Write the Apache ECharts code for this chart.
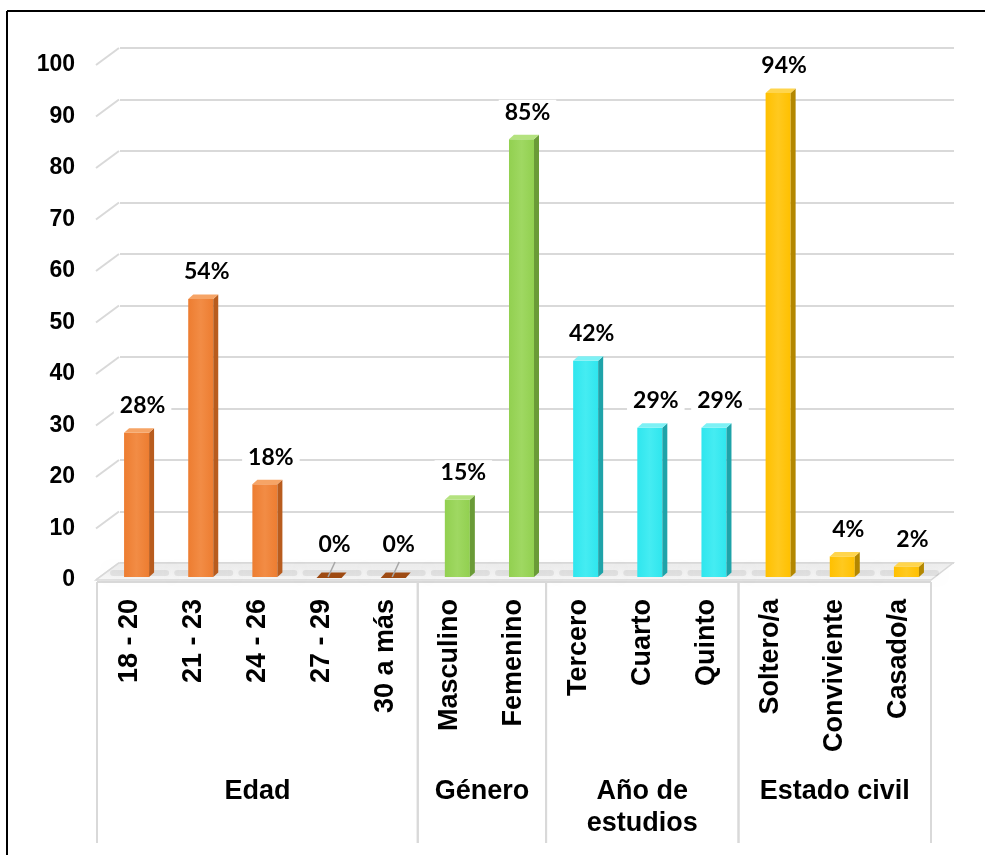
<!DOCTYPE html>
<html>
<head>
<meta charset="utf-8">
<script src="https://cdn.jsdelivr.net/npm/echarts/dist/echarts.min.js"></script>
<style>
html,body{margin:0;padding:0;background:#fff;}
#chart{width:985px;height:855px;}
</style>
</head>
<body>
<div id="chart"></div>
<script>
// ---- Data ----
const categories = ['18 - 20','21 - 23','24 - 26','27 - 29','30 a más','Masculino','Femenino','Tercero','Cuarto','Quinto','Soltero/a','Conviviente','Casado/a'];
const values = [28, 54, 18, 0, 0, 15, 85, 42, 29, 29, 94, 4, 2];
const groupNames = ['Edad', 'Género', 'Año de\nestudios', 'Estado civil'];
const groupSizes = [5, 2, 3, 3];
const yTicks = [0, 10, 20, 30, 40, 50, 60, 70, 80, 90, 100];

// ---- Styling ----
const palette = [
  {front:'#ED7D31', light:'#F28C45', side:'#B85C1E', top:'#F6A466', zero:'#9E4A12'},
  {front:'#92D050', light:'#9FD862', side:'#6A9B37', top:'#B4E27F', zero:'#5E8A2F'},
  {front:'#2FE6EE', light:'#45ECF2', side:'#1FA3A9', top:'#7DF1F5', zero:'#1A8A8F'},
  {front:'#FFC000', light:'#FFC91F', side:'#B38700', top:'#FFD54D', zero:'#9A7400'}
];
const groupOf = [];
groupSizes.forEach((s, g) => { for (let k = 0; k < s; k++) groupOf.push(g); });

const groupData = [];
{
  let start = 0;
  groupSizes.forEach((s, g) => { groupData.push([start, start + s - 1, g]); start += s; });
}

const DX = 23, DY = -17; // wall depth offset
const GRID_COLOR = '#d9d9d9';
const LABEL_FONT = 'bold 23px Lato, "Open Sans", sans-serif';

const chart = echarts.init(document.getElementById('chart'), null, {renderer:'canvas'});

function renderFloor(params, api) {
  const n = categories.length;
  const bw = api.size([1, 0])[0];
  const a = api.coord([0, 0]), b = api.coord([n - 1, 0]);
  const x0 = a[0] - bw / 2, x1 = b[0] + bw / 2, y = a[1];
  return {
    type: 'group',
    children: [
      {type:'polygon', shape:{points:[[x0 - 1, y], [x1, y], [x1 + DX - 1, y + DY], [x0 + DX - 1, y + DY]]},
       style:{fill: new echarts.graphic.LinearGradient(0, 0, 0, 1, [{offset:0, color:'#ececec'}, {offset:1, color:'#f8f8f8'}]), stroke: GRID_COLOR, lineWidth: 1.5}},
      {type:'line', shape:{x1:x0, y1:y + 2, x2:x1, y2:y + 2}, style:{stroke: GRID_COLOR, lineWidth: 2}}
    ]
  };
}

function renderDiag(params, api) {
  const v = api.value(0);
  const bw = api.size([1, 0])[0];
  const p = api.coord([0, v]);
  const x0 = p[0] - bw / 2 - 1;
  return {type:'line', shape:{x1:x0, y1:p[1], x2:x0 + DX, y2:p[1] + DY}, style:{stroke: GRID_COLOR, lineWidth: 2}};
}

function renderBar(params, api) {
  const i = api.value(0), v = api.value(1);
  const base = api.coord([i, 0]), top = api.coord([i, v]);
  const bw = api.size([1, 0])[0];
  const w = bw * 0.39, cx = base[0] + 7.5, sh = -3, ddx = 5, ddy = -4.5;
  const L = cx - w / 2, R = cx + w / 2, yb = base[1] + sh, yt = top[1] + sh;
  const c = palette[groupOf[i]];
  const children = [];
  // floor shadow
  children.push({type:'rect', shape:{x: L - 14, y: yb - 7, width: w + 34, height: 6, r: 3},
    style:{fill:'rgba(0,0,0,0.07)', shadowBlur: 10, shadowColor:'rgba(0,0,0,0.4)'}});
  if (v > 0) {
    children.push({type:'rect', shape:{x:L, y:yt, width:w, height:yb - yt},
      style:{fill: new echarts.graphic.LinearGradient(0, 0, 1, 0, [{offset:0, color:c.front}, {offset:0.5, color:c.light}, {offset:1, color:c.front}])}});
    children.push({type:'polygon', shape:{points:[[R, yt], [R + ddx, yt + ddy], [R + ddx, yb + ddy], [R, yb]]},
      style:{fill:c.side}});
    children.push({type:'polygon', shape:{points:[[L, yt], [L + ddx, yt + ddy], [R + ddx, yt + ddy], [R, yt]]},
      style:{fill:c.top}});
    children.push({type:'text', style:{text: v + '%', x: cx + 6, y: yt - 27, align:'center', verticalAlign:'middle',
      font: LABEL_FONT, fill:'#000', backgroundColor:'#fff', padding:[1, 6]}});
  } else {
    children.push({type:'polygon', shape:{points:[[L, yb + 1], [L + ddx, yb + ddy], [R + ddx, yb + ddy], [R, yb + 1]]},
      style:{fill:c.zero}});
    children.push({type:'line', shape:{x1: cx + 6, y1: base[1] - 18, x2: cx - 1, y2: base[1] - 3},
      style:{stroke:'#a6a6a6', lineWidth:1.5}});
    children.push({type:'text', style:{text: v + '%', x: cx + 5.5, y: base[1] - 35.5, align:'center', verticalAlign:'middle',
      font: LABEL_FONT, fill:'#000', backgroundColor:'#fff', padding:[1, 4]}});
  }
  return {type:'group', children};
}

function renderGroup(params, api) {
  const s = api.value(0), e = api.value(1), g = api.value(2);
  const bw = api.size([1, 0])[0];
  const a = api.coord([s, 0]), b = api.coord([e, 0]);
  const x0 = a[0] - bw / 2, x1 = b[0] + bw / 2, y = a[1] + 2;
  const yEnd = 843;
  return {
    type:'group',
    children:[
      {type:'line', shape:{x1:x0, y1:y, x2:x0, y2:yEnd}, style:{stroke: GRID_COLOR, lineWidth: 2}},
      {type:'line', shape:{x1:x1, y1:y, x2:x1, y2:yEnd}, style:{stroke: GRID_COLOR, lineWidth: 2}},
      {type:'text', style:{text: groupNames[g], x:(a[0] + b[0]) / 2, y: 776, align:'center', verticalAlign:'top',
        font:'bold 27px "Liberation Sans", Arial, sans-serif', lineHeight: 32, fill:'#000'}}
    ]
  };
}

const option = {
  animation: false,
  backgroundColor: '#fff',
  grid: [
    {left: 97, right: 54, top: 65, bottom: 275, outerBoundsMode: 'none'},
    {left: 120, right: 31, top: 48, bottom: 292, outerBoundsMode: 'none'}
  ],
  xAxis: [
    {type:'category', gridIndex:0, data: categories,
     axisLine:{show:false}, axisTick:{show:false}, splitLine:{show:false},
     axisLabel:{interval:0, rotate:90, margin:19, color:'#000', fontSize:27, fontWeight:'bold', fontFamily:'"Liberation Sans", Arial, sans-serif'}},
    {type:'category', gridIndex:1, data: categories, show:false}
  ],
  yAxis: [
    {type:'value', gridIndex:0, min:0, max:100, interval:10,
     axisLine:{show:false}, axisTick:{show:false}, splitLine:{show:false},
     axisLabel:{margin:22, color:'#000', fontSize:23, fontWeight:'bold', fontFamily:'"Liberation Sans", Arial, sans-serif'}},
    {type:'value', gridIndex:1, min:0, max:100, interval:10,
     axisLine:{show:false}, axisTick:{show:false}, axisLabel:{show:false},
     splitLine:{show:true, lineStyle:{color: GRID_COLOR, width: 2}}}
  ],
  graphic: [
    {type:'line', shape:{x1:7, y1:11, x2:985, y2:11}, style:{stroke:'#000', lineWidth:2}, z:100},
    {type:'line', shape:{x1:7, y1:11, x2:7, y2:855}, style:{stroke:'#000', lineWidth:2}, z:100}
  ],
  series: [
    {type:'custom', xAxisIndex:0, yAxisIndex:0, renderItem: renderDiag, data: yTicks.map(v => [v]), clip:false, silent:true, z:1},
    {type:'custom', xAxisIndex:0, yAxisIndex:0, renderItem: renderFloor, data: [[0]], clip:false, silent:true, z:2},
    {type:'custom', xAxisIndex:0, yAxisIndex:0, renderItem: renderBar, data: values.map((v, i) => [i, v]), clip:false, silent:true, z:3},
    {type:'custom', xAxisIndex:0, yAxisIndex:0, renderItem: renderGroup, data: groupData, clip:false, silent:true, z:3}
  ]
};
chart.setOption(option);
</script>
</body>
</html>
